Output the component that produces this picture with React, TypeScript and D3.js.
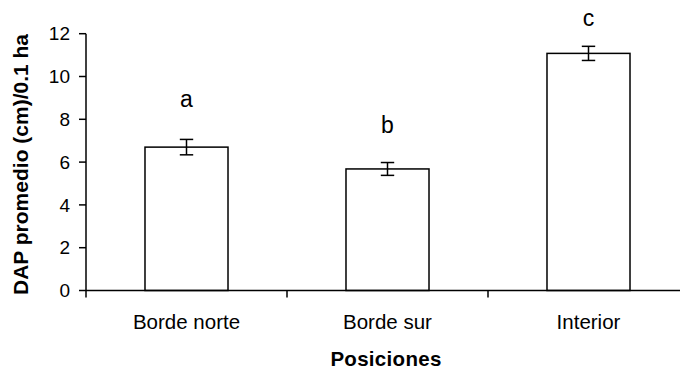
import React from "react";
import * as d3 from "d3";

// Mean DBH per position with its error and the significance group letter
const categories = ["Borde norte", "Borde sur", "Interior"];
const means = [6.7, 5.68, 11.08];
const errors = [0.36, 0.3, 0.33];
const groupLetters = ["a", "b", "c"];
const letterHeights = [8.57, 7.35, 12.35];
const yTicks = [0, 2, 4, 6, 8, 10, 12];

const W = 680;
const H = 371;
const FONT = "Arial, 'Liberation Sans', sans-serif";

export default function App() {
  const y = d3.scaleLinear().domain([0, 12]).range([290.5, 33.7]);
  const x = d3
    .scaleBand<string>()
    .domain(categories)
    .range([86, 689])
    .paddingInner(0.587)
    .paddingOuter(0.2935);

  const step = x.step();
  const x0 = 86;
  const bw = x.bandwidth();
  const cap = 6.7;

  return (
    <svg
      width={W}
      height={H}
      style={{ position: "absolute", left: 0, top: 0, background: "#fff" }}
      fontFamily={FONT}
    >
      <rect width={W} height={H} fill="#fff" />

      {/* bars */}
      {categories.map((c, i) => (
        <rect
          key={c}
          x={x(c)}
          y={y(means[i])}
          width={bw}
          height={y(0) - y(means[i])}
          fill="#fff"
          stroke="#000"
          strokeWidth={1.5}
        />
      ))}

      {/* error bars */}
      {categories.map((c, i) => {
        const cx = (x(c) as number) + bw / 2;
        const top = y(means[i] + errors[i]);
        const bot = y(means[i] - errors[i]);
        return (
          <g key={c} stroke="#000" strokeWidth={1.5}>
            <line x1={cx} x2={cx} y1={top} y2={bot} />
            <line x1={cx - cap} x2={cx + cap} y1={top} y2={top} />
            <line x1={cx - cap} x2={cx + cap} y1={bot} y2={bot} />
          </g>
        );
      })}

      {/* group letters */}
      {categories.map((c, i) => (
        <text
          key={c}
          x={(x(c) as number) + bw / 2}
          y={y(letterHeights[i])}
          textAnchor="middle"
          fontSize={23}
          fill="#000"
        >
          {groupLetters[i]}
        </text>
      ))}

      {/* y axis */}
      <line x1={86} x2={86} y1={y(12)} y2={y(0)} stroke="#000" strokeWidth={1.5} />
      {yTicks.map((t) => (
        <g key={t}>
          <line x1={79} x2={86} y1={y(t)} y2={y(t)} stroke="#000" strokeWidth={1.5} />
          <text x={70} y={y(t)} dy="0.35em" textAnchor="end" fontSize={19} fill="#000">
            {t}
          </text>
        </g>
      ))}

      {/* x axis */}
      <line x1={86} x2={W} y1={y(0)} y2={y(0)} stroke="#000" strokeWidth={1.5} />
      {d3.range(categories.length + 1).map((k) => (
        <line
          key={k}
          x1={x0 + k * step}
          x2={x0 + k * step}
          y1={y(0)}
          y2={y(0) + 7}
          stroke="#000"
          strokeWidth={1.5}
        />
      ))}
      {categories.map((c) => (
        <text
          key={c}
          x={(x(c) as number) + bw / 2}
          y={329}
          textAnchor="middle"
          fontSize={20.5}
          fill="#000"
        >
          {c}
        </text>
      ))}

      {/* axis titles */}
      <text
        x={386}
        y={366}
        textAnchor="middle"
        fontSize={20.5}
        fontWeight="bold"
        letterSpacing={0.3}
        fill="#000"
      >
        Posiciones
      </text>
      <text
        transform={`translate(28,164.5) rotate(-90)`}
        textAnchor="middle"
        fontSize={21}
        fontWeight="bold"
        fill="#000"
      >
        DAP promedio (cm)/0.1 ha
      </text>
    </svg>
  );
}
